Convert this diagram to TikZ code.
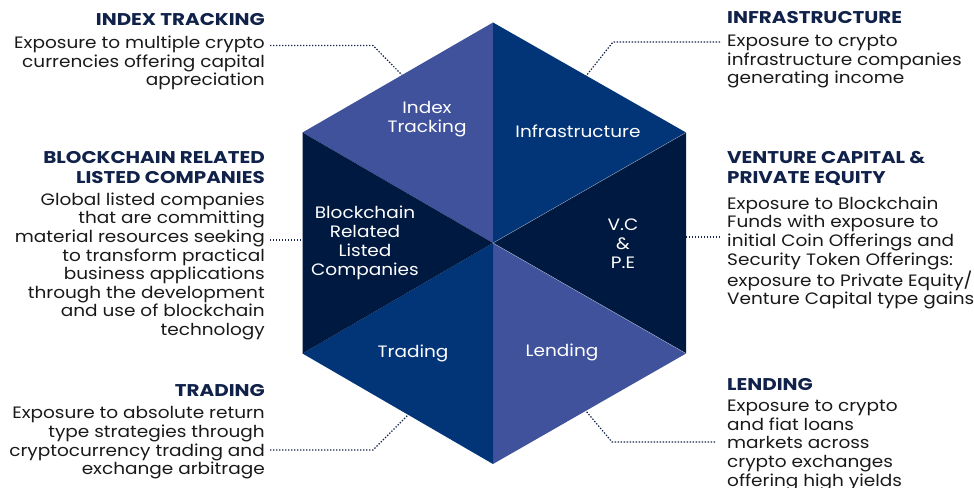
\documentclass[tikz,border=0pt]{standalone}
\usepackage{fontspec}
\setmainfont{Poppins}[FakeStretch=1.12]
\newfontfamily\headfont{Poppins}[FakeStretch=1.17]
\definecolor{hexlight}{RGB}{64,82,155}
\definecolor{hexmid}{RGB}{2,52,120}
\definecolor{hexdark}{RGB}{0,25,64}
\definecolor{headcol}{RGB}{16,33,74}
\definecolor{bodycol}{RGB}{25,25,25}
\definecolor{dotcol}{RGB}{20,35,75}
\begin{document}
\begin{tikzpicture}[x=1pt,y=-1pt,
  head/.style={font=\headfont\fontsize{17}{20}\selectfont\bfseries, text=headcol, inner sep=0pt},
  body/.style={font=\fontsize{16.5}{18.6}\selectfont, text=bodycol, inner sep=0pt},
  hexlabel/.style={font=\fontsize{16.5}{18.8}\selectfont, text=white, align=center, inner sep=0pt},
  leader/.style={dotcol, line width=1.2pt, dash pattern=on 1.4pt off 1.6pt},
  seam/.style={white, opacity=0.45, line width=0.5pt}]
\useasboundingbox (0,0) rectangle (974,487);
% hexagon corners
\coordinate (C) at (493,243);
\coordinate (T) at (493,22.5);
\coordinate (UR) at (686,132.5);
\coordinate (LR) at (686,353.5);
\coordinate (B) at (493,464);
\coordinate (LL) at (302.5,353.5);
\coordinate (UL) at (302.5,132.5);
% leader end points
\coordinate (idxs) at (270,45.5);
\coordinate (idxk) at (373,45.5);
\coordinate (idxe) at (402,75);
\coordinate (infs) at (720,42);
\coordinate (infk) at (613,42);
\coordinate (infe) at (586,76);
\coordinate (blks) at (270,240);
\coordinate (blke) at (303,240);
\coordinate (vcs) at (720,237);
\coordinate (vce) at (686,237);
\coordinate (trds) at (270,450);
\coordinate (trdk) at (373,450);
\coordinate (trde) at (408,415);
\coordinate (lens) at (715,442);
\coordinate (lenk) at (612,442);
\coordinate (lene) at (586,411);
% leaders
\draw[leader] (idxs) -- (idxk) -- (idxe);
\draw[leader] (infs) -- (infk) -- (infe);
\draw[leader] (blks) -- (blke);
\draw[leader] (vcs) -- (vce);
\draw[leader] (trds) -- (trdk) -- (trde);
\draw[leader] (lens) -- (lenk) -- (lene);
% hexagon
\fill[hexlight] (C) -- (UL) -- (T) -- cycle;
\fill[hexmid] (C) -- (T) -- (UR) -- cycle;
\fill[hexdark] (C) -- (UR) -- (LR) -- cycle;
\fill[hexlight] (C) -- (LR) -- (B) -- cycle;
\fill[hexmid] (C) -- (B) -- (LL) -- cycle;
\fill[hexdark] (C) -- (LL) -- (UL) -- cycle;
\draw[seam] (C) -- (UR);
\draw[seam] (C) -- (LR);
% hexagon labels
\node[hexlabel] (lidx) at (427,119.5) {Index\\Tracking};
\node[hexlabel] (linf) at (578,131) {Infrastructure};
\node[hexlabel] (lblk) at (365,243) {Blockchain\\Related\\Listed\\Companies};
\node[hexlabel] (lvc) at (623,244) {V.C\\\&\\P.E};
\node[hexlabel] (ltrd) at (413,353) {Trading};
\node[hexlabel] (llen) at (562,352) {Lending};
% left column
\node[head, anchor=base east] (hidx) at (265,26) {INDEX TRACKING};
\node[body, align=right, anchor=north east] (bidx) at (265,36) {Exposure to multiple crypto\\currencies offering capital\\appreciation};
\node[head, align=right, anchor=north east] (hblk) at (265,151.5) {BLOCKCHAIN RELATED\\LISTED COMPANIES};
\node[body, align=right, anchor=north east] (bblk) at (265,192.5) {Global listed companies\\that are committing\\material resources seeking\\to transform practical\\business applications\\through the development\\and use of blockchain\\technology};
\node[head, anchor=base east] (htrd) at (265,396.5) {TRADING};
\node[body, align=right, anchor=north east] (btrd) at (265,406.5) {Exposure to absolute return\\type strategies through\\cryptocurrency trading and\\exchange arbitrage};
% right column
\node[head, anchor=base west] (hinf) at (727,24) {INFRASTRUCTURE};
\node[body, align=left, anchor=north west] (binf) at (727,35) {Exposure to crypto\\infrastructure companies\\generating income};
\node[head, align=left, anchor=north west] (hvc) at (727,151.5) {VENTURE CAPITAL \&\\PRIVATE EQUITY};
\node[body, align=left, anchor=north west] (bvc) at (727,196.5) {Exposure to Blockchain\\Funds with exposure to\\initial Coin Offerings and\\Security Token Offerings:\\exposure to Private Equity/\\Venture Capital type gains};
\node[head, anchor=base west] (hlen) at (727,390) {LENDING};
\node[body, align=left, anchor=north west] (blen) at (727,400) {Exposure to crypto\\and fiat loans\\markets across\\crypto exchanges\\offering high yields};
\end{tikzpicture}
\end{document}
